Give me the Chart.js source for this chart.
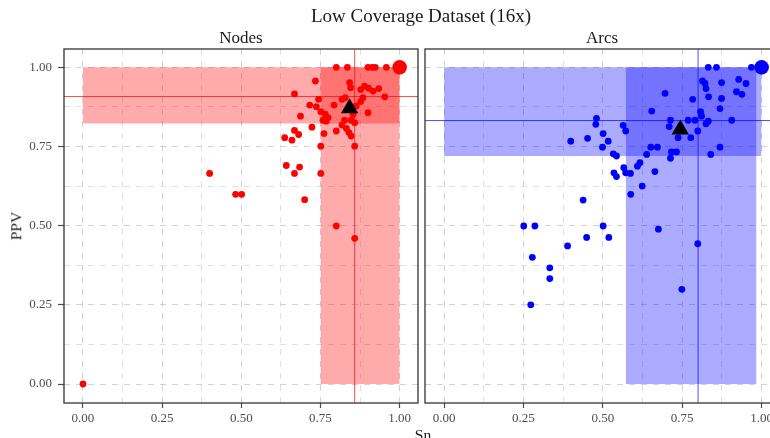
<!DOCTYPE html>
<html>
<head>
<meta charset="utf-8">
<script src="https://cdn.jsdelivr.net/npm/chart.js@4"></script>
<style>
  body { margin: 0; background: #fff; }
  #wrap { position: relative; width: 770px; height: 438px; overflow: hidden; font-family: "Liberation Serif", serif; color: #1a1a1a; }
  #left { position: absolute; left: 0; top: 0; }
  #right { position: absolute; left: 420px; top: 0; }
  .txt { position: absolute; white-space: nowrap; line-height: 1; transform: translate(-50%, -50%); }
</style>
</head>
<body>
<div id="wrap">
  <canvas id="left" width="420" height="438"></canvas>
  <canvas id="right" width="370" height="438"></canvas>
  <div class="txt" style="left:421px;top:15px;font-size:19px">Low Coverage Dataset (16x)</div>
  <div class="txt" style="left:241px;top:37px;font-size:17px">Nodes</div>
  <div class="txt" style="left:602px;top:37px;font-size:17px">Arcs</div>
  <div class="txt" style="left:16px;top:226px;font-size:15.5px;transform:translate(-50%,-50%) rotate(-90deg)">PPV</div>
  <div class="txt" style="left:423px;top:435px;font-size:15.5px">Sn</div>
</div>
<script>
'use strict';

// axis ticks
const majorTicks = [0, 0.25, 0.5, 0.75, 1];
const tickLabels = ['0.00', '0.25', '0.50', '0.75', '1.00'];
const gridTicks = [0, 0.125, 0.25, 0.375, 0.5, 0.625, 0.75, 0.875, 1];
const axisMin = -0.06;
const axisMax = 1.058;

// Nodes panel
const nodeSn = [0.80, 0.835, 0.90, 0.913, 0.923, 0.958, 0.734, 0.842, 0.845, 0.668,
  0.889, 0.902, 0.877, 0.916, 0.934, 0.953, 0.884, 0.877, 0.818, 0.828,
  0.793, 0.744, 0.716, 0.737, 0.90, 0.863, 0.687, 0.751, 0.765, 0.774,
  0.758, 0.768, 0.853, 0.847, 0.858, 0.826, 0.818, 0.723, 0.80, 0.832,
  0.840, 0.847, 0.761, 0.668, 0.681, 0.637, 0.66, 0.751, 0.858, 0.642,
  0.684, 0.668, 0.751, 0.40, 0.482, 0.501, 0.70, 0.80, 0.858, 0.0];
const nodePPV = [1.0, 1.0, 1.0, 1.0, 1.0, 1.0, 0.957, 0.952, 0.936, 0.916,
  0.941, 0.934, 0.930, 0.925, 0.933, 0.907, 0.904, 0.892, 0.899, 0.904,
  0.881, 0.899, 0.881, 0.876, 0.857, 0.878, 0.846, 0.86, 0.852, 0.841,
  0.833, 0.830, 0.852, 0.833, 0.825, 0.833, 0.818, 0.811, 0.799, 0.807,
  0.794, 0.783, 0.791, 0.801, 0.788, 0.778, 0.77, 0.751, 0.751, 0.69,
  0.685, 0.665, 0.665, 0.665, 0.599, 0.599, 0.582, 0.499, 0.46, 0.0];
const nodeMean = [0.842, 0.871];
const nodeBest = [1, 1];
const nodeSnBand = [0.75, 1];
const nodePPVBand = [0.823, 1];
const nodeSnLine = 0.858;
const nodePPVLine = 0.908;

// Arcs panel
const arcSn = [0.832, 0.858, 0.968, 0.814, 0.822, 0.825, 0.874, 0.928, 0.951, 0.696,
  0.783, 0.833, 0.874, 0.921, 0.938, 0.869, 0.654, 0.808, 0.811, 0.480,
  0.478, 0.564, 0.572, 0.713, 0.709, 0.769, 0.790, 0.832, 0.825, 0.906,
  0.799, 0.737, 0.777, 0.399, 0.452, 0.501, 0.517, 0.499, 0.651, 0.672,
  0.869, 0.840, 0.638, 0.716, 0.732, 0.713, 0.533, 0.543, 0.566, 0.609,
  0.617, 0.664, 0.535, 0.543, 0.572, 0.587, 0.624, 0.588, 0.438, 0.251,
  0.286, 0.501, 0.449, 0.519, 0.675, 0.799, 0.389, 0.278, 0.333, 0.333,
  0.749, 0.273];
const arcPPV = [1.0, 1.0, 1.0, 0.957, 0.949, 0.933, 0.952, 0.962, 0.949, 0.918,
  0.899, 0.907, 0.902, 0.923, 0.915, 0.870, 0.862, 0.86, 0.846, 0.839,
  0.82, 0.817, 0.799, 0.833, 0.813, 0.833, 0.833, 0.830, 0.822, 0.833,
  0.799, 0.778, 0.778, 0.767, 0.776, 0.791, 0.767, 0.748, 0.748, 0.748,
  0.748, 0.725, 0.725, 0.733, 0.733, 0.713, 0.727, 0.72, 0.683, 0.688,
  0.699, 0.671, 0.667, 0.655, 0.667, 0.665, 0.625, 0.599, 0.581, 0.499,
  0.499, 0.499, 0.463, 0.463, 0.489, 0.443, 0.436, 0.40, 0.367, 0.333,
  0.299, 0.25];
const arcMean = [0.744, 0.804];
const arcBest = [1, 1];
const arcSnBand = [0.572, 0.984];
const arcPPVBand = [0.72, 1];
const arcSnLine = 0.80;
const arcPPVLine = 0.832;

Chart.defaults.font.family = '"Liberation Serif", serif';

function pts(xs, ys) {
  return xs.map((x, i) => ({x: x, y: ys[i]}));
}

function noMarks(extra) {
  return Object.assign({pointRadius: 0, borderWidth: 0, borderColor: 'transparent', fill: false}, extra);
}

function panelData(p) {
  return [
    {data: [{x: p.mean[0], y: p.mean[1]}], showLine: false, pointStyle: 'triangle',
      pointRadius: 10, pointBackgroundColor: '#000', pointBorderWidth: 0},
    {data: [{x: p.best[0], y: p.best[1]}], showLine: false,
      pointRadius: 7.3, pointBackgroundColor: p.color, pointBorderWidth: 0},
    {data: pts(p.sn, p.ppv), showLine: false,
      pointRadius: 3.4, pointBackgroundColor: p.color, pointBorderWidth: 0},
    // median lines
    {data: [{x: axisMin, y: p.ppvLine}, {x: axisMax, y: p.ppvLine}],
      pointRadius: 0, borderWidth: 1, borderColor: p.lineColor, fill: false},
    {data: [{x: p.snLine, y: axisMin}, {x: p.snLine, y: axisMax}],
      pointRadius: 0, borderWidth: 1, borderColor: p.lineColor, fill: false},
    // PPV band
    noMarks({data: [{x: 0, y: p.ppvBand[1]}, {x: 1, y: p.ppvBand[1]}]}),
    noMarks({data: [{x: 0, y: p.ppvBand[0]}, {x: 1, y: p.ppvBand[0]}], fill: '-1', backgroundColor: p.band}),
    // Sn band
    noMarks({data: [{x: p.snBand[0], y: 1}, {x: p.snBand[1], y: 1}]}),
    noMarks({data: [{x: p.snBand[0], y: 0}, {x: p.snBand[1], y: 0}], fill: '-1', backgroundColor: p.band})
  ];
}

function tickLabel(v) {
  const i = majorTicks.indexOf(v);
  return i >= 0 ? tickLabels[i] : '';
}

function isMajor(ctx) {
  return ctx.tick && majorTicks.indexOf(ctx.tick.value) >= 0;
}

function axis(size, showTicks, isX) {
  return {
    type: 'linear',
    min: axisMin,
    max: axisMax,
    bounds: 'data',
    afterBuildTicks: s => { s.ticks = gridTicks.map(v => ({value: v})); },
    afterFit: s => {
      if (isX) s.height = size; else s.width = size;
      s.paddingLeft = 0; s.paddingRight = 0; s.paddingTop = 0; s.paddingBottom = 0;
    },
    ticks: {
      display: showTicks,
      autoSkip: false,
      maxRotation: 0,
      padding: isX ? 3 : 6,
      color: '#4d4d4d',
      font: {size: 13},
      callback: v => tickLabel(v)
    },
    grid: {
      color: ctx => isMajor(ctx) ? '#d2d2d2' : '#e0e0e0',
      lineWidth: 1,
      drawTicks: showTicks,
      tickLength: isX ? 5 : 6,
      tickColor: ctx => isMajor(ctx) ? '#4d4d4d' : 'transparent',
      tickWidth: 1.2
    },
    border: {display: false, dash: [6, 6]}
  };
}

const frame = {
  id: 'frame',
  afterDraw(chart) {
    const {ctx, chartArea: a} = chart;
    ctx.save();
    ctx.strokeStyle = '#333';
    ctx.lineWidth = 1.3;
    ctx.strokeRect(a.left, a.top, a.right - a.left, a.bottom - a.top);
    ctx.restore();
  }
};

function makeChart(el, p, yWidth, showY, padRight) {
  return new Chart(el, {
    type: 'line',
    data: {datasets: panelData(p)},
    options: {
      responsive: false,
      animation: false,
      events: [],
      layout: {autoPadding: false, padding: {top: 49, right: padRight, bottom: 0, left: 0}},
      plugins: {legend: {display: false}, tooltip: {enabled: false}},
      scales: {
        x: axis(35, true, true),
        y: axis(yWidth, showY, false)
      }
    },
    plugins: [frame]
  });
}

makeChart(document.getElementById('left'), {
  sn: nodeSn, ppv: nodePPV, mean: nodeMean, best: nodeBest,
  snBand: nodeSnBand, ppvBand: nodePPVBand, snLine: nodeSnLine, ppvLine: nodePPVLine,
  color: '#ff0000', lineColor: 'rgba(255, 0, 0, 0.7)', band: 'rgba(255, 0, 0, 0.33)'
}, 64, true, 2);

makeChart(document.getElementById('right'), {
  sn: arcSn, ppv: arcPPV, mean: arcMean, best: arcBest,
  snBand: arcSnBand, ppvBand: arcPPVBand, snLine: arcSnLine, ppvLine: arcPPVLine,
  color: '#0000ff', lineColor: 'rgba(0, 0, 255, 0.7)', band: 'rgba(0, 0, 255, 0.33)'
}, 5, false, 10);
</script>
</body>
</html>
